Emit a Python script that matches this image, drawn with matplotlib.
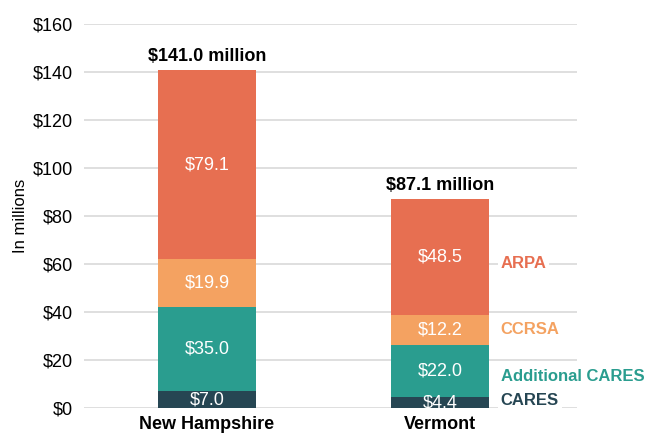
import numpy as np
import matplotlib.pyplot as plt
from matplotlib import font_manager

states = ["New Hampshire", "Vermont"]
series = ["CARES", "Additional CARES", "CCRSA", "ARPA"]
cares = [7.0, 4.4]
add_cares = [35.0, 22.0]
ccrsa = [19.9, 12.2]
arpa = [79.1, 48.5]
totals = [141.0, 87.1]
legend_y = [3.3, 13.3, 32.5, 60.0]

colors = ["#264653", "#2a9d8f", "#f4a261", "#e76f51"]

names = [f.name for f in font_manager.fontManager.ttflist]
fam = "Liberation Sans Narrow" if "Liberation Sans Narrow" in names else "Liberation Sans"
plt.rcParams["font.family"] = [fam, "DejaVu Sans"]

fig = plt.figure(figsize=(6.52, 4.41), dpi=100)
ax = fig.add_axes([84/652, 33/441, 493/652, 384/441])

x = np.arange(len(states))
w = 0.42
bottom = np.zeros(len(states))
for vals, c in zip([cares, add_cares, ccrsa, arpa], colors):
    vals = np.array(vals)
    ax.bar(x, vals, w, bottom=bottom, color=c, zorder=2)
    for xi, b, v in zip(x, bottom, vals):
        ax.text(xi, b + v / 2, "$%.1f" % v, ha="center", va="center",
                color="white", fontsize=13, zorder=3)
    bottom += vals

for xi, t in zip(x, totals):
    ax.text(xi, t + 2, "$%.1f million" % t, ha="center", va="bottom",
            fontsize=13, fontweight="bold", zorder=3)

for name, y, c in zip(series, legend_y, colors):
    ax.text(1.26, y, name, ha="left", va="center", color=c, fontsize=12,
            fontweight="bold", zorder=3,
            bbox=dict(facecolor="white", edgecolor="none", pad=2))

ax.set_xlim(-0.528, 1.588)
ax.set_ylim(0, 160)
ax.set_yticks(np.arange(0, 161, 20))
ax.set_yticklabels(["$%d" % v for v in range(0, 161, 20)], fontsize=13)
ax.set_xticks(x)
ax.set_xticklabels(states, fontsize=13, fontweight="bold")
ax.yaxis.grid(True, color="#d9d9d9", linewidth=1.2, zorder=0)
ax.set_axisbelow(True)
for s in ax.spines.values():
    s.set_visible(False)
ax.tick_params(length=0, pad=8)
ax.tick_params(axis="x", pad=6)
ax.set_ylabel("In millions", fontsize=12, labelpad=3)

fig.savefig("out.png", dpi=100)
